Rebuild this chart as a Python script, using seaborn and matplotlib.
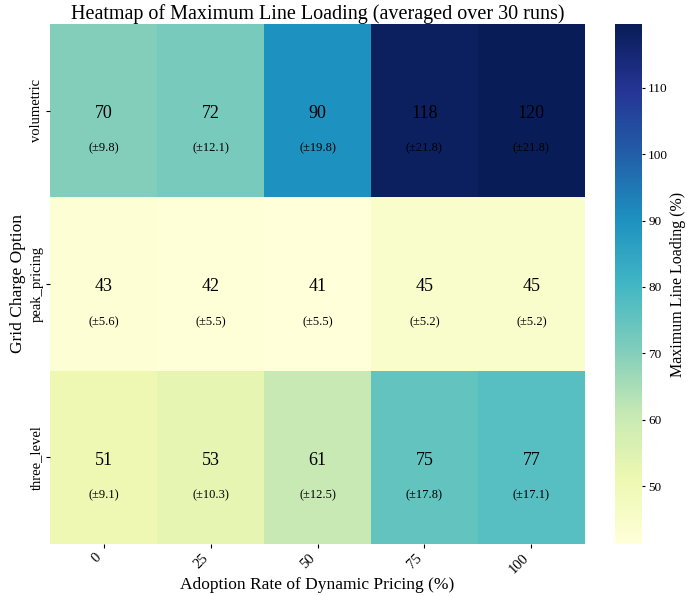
import matplotlib
matplotlib.use("Agg")
import matplotlib.pyplot as plt
import numpy as np
import pandas as pd
import seaborn as sns

options = ["volumetric", "peak_pricing", "three_level"]
adoption = [0, 25, 50, 75, 100]
mean_volumetric = [70.2, 71.8, 90.1, 118.3, 119.6]
mean_peak = [42.8, 42.2, 41.3, 44.9, 44.9]
mean_three = [50.7, 53.2, 60.8, 75.2, 76.9]
std_volumetric = [9.8, 12.1, 19.8, 21.8, 21.8]
std_peak = [5.6, 5.5, 5.5, 5.2, 5.2]
std_three = [9.1, 10.3, 12.5, 17.8, 17.1]

means = pd.DataFrame([mean_volumetric, mean_peak, mean_three], index=options, columns=adoption)
stds = pd.DataFrame([std_volumetric, std_peak, std_three], index=options, columns=adoption)

plt.rcParams["font.family"] = ["Liberation Serif", "DejaVu Serif"]

fig = plt.figure(figsize=(6.88, 5.96), dpi=100)
ax = fig.add_axes([0.073, 0.087, 0.777, 0.873])
cax = fig.add_axes([0.894, 0.087, 0.039, 0.873])

sns.heatmap(means, cmap="YlGnBu", annot=False, ax=ax, cbar_ax=cax)

for i, opt in enumerate(options):
    for j, a in enumerate(adoption):
        ax.text(j + 0.5, i + 0.515, f"{means.loc[opt, a]:.0f}", ha="center", va="center",
                fontsize=13, color="black")
        ax.text(j + 0.5, i + 0.72, f"(±{stds.loc[opt, a]:.1f})", ha="center", va="center",
                fontsize=9, color="black")

ax.set_title("Heatmap of Maximum Line Loading (averaged over 30 runs)", fontsize=14.5, pad=3)
ax.set_xlabel("Adoption Rate of Dynamic Pricing (%)", fontsize=12.5, labelpad=1)
ax.set_ylabel("Grid Charge Option", fontsize=12.5, labelpad=3)
ax.set_xticklabels(adoption, rotation=45, ha="right", fontsize=10.5)
ax.set_yticklabels(options, rotation=90, va="center", fontsize=10.5)
ax.tick_params(length=3, pad=2)
cax.tick_params(labelsize=9.5, length=2.5, pad=2)
cax.set_ylabel("Maximum Line Loading (%)", fontsize=11.5, labelpad=1)

fig.savefig("out.png", dpi=100)
